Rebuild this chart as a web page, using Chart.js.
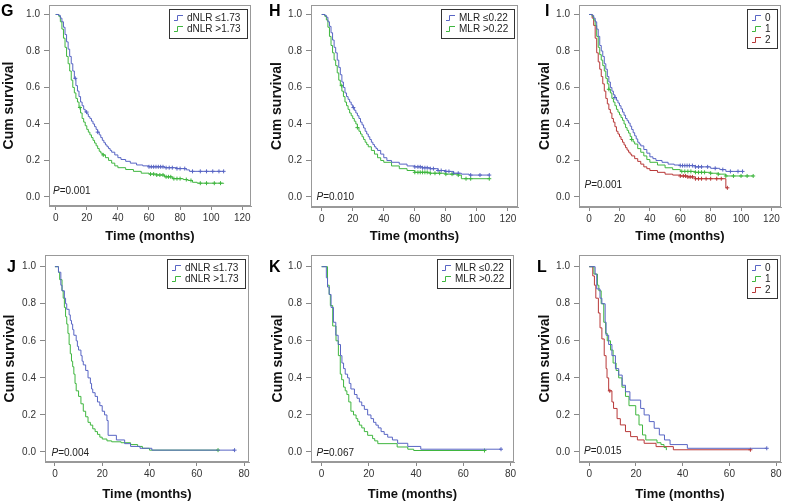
<!DOCTYPE html>
<html>
<head>
<meta charset="utf-8">
<script src="https://cdn.jsdelivr.net/npm/chart.js@4.4.1/dist/chart.umd.min.js"></script>
<style>
  body { margin: 0; background: #fff; }
  #wrap { position: relative; width: 786px; height: 501px; overflow: hidden; }
  canvas { position: absolute; }
</style>
</head>
<body>
<div id="wrap">
  <canvas id="cG" width="262" height="250" style="left:0;top:0"></canvas>
  <canvas id="cH" width="262" height="250" style="left:262px;top:0"></canvas>
  <canvas id="cI" width="262" height="250" style="left:524px;top:0"></canvas>
  <canvas id="cJ" width="262" height="251" style="left:0;top:250px"></canvas>
  <canvas id="cK" width="262" height="251" style="left:262px;top:250px"></canvas>
  <canvas id="cL" width="262" height="251" style="left:524px;top:250px"></canvas>
</div>
<script>
// tick labels
const xTicksTop = [0, 20, 40, 60, 80, 100, 120];
const xTicksBottom = [0, 20, 40, 60, 80];
const yTicks = [0, 0.2, 0.4, 0.6, 0.8, 1.0];

// group labels
const dnlrLabels = ["dNLR \u22641.73", "dNLR >1.73"];
const mlrLabels = ["MLR \u22640.22", "MLR >0.22"];
const scoreLabels = ["0", "1", "2"];

// survival curves: [month, cumulative survival]
const G_low = [[0,1],[2,0.995],[3,0.98],[4,0.96],[5,0.93],[6,0.89],[7,0.85],[8,0.81],[9,0.77],[10,0.73],[11,0.69],[12,0.65],[13,0.61],[14,0.58],[15,0.55],[16,0.52],[17,0.5],[18,0.48],[19,0.465],[20,0.455],[21,0.44],[22,0.43],[23,0.415],[24,0.4],[25,0.385],[26,0.37],[27,0.355],[28,0.34],[29,0.325],[30,0.31],[31,0.297],[32,0.285],[33,0.275],[34,0.265],[35,0.255],[36,0.245],[38,0.23],[40,0.215],[42,0.205],[45,0.195],[48,0.185],[52,0.175],[56,0.17],[60,0.165],[70,0.16],[78,0.155],[84,0.148],[86,0.14],[108,0.14]];
const G_high = [[0,1],[2,0.99],[3,0.96],[4,0.92],[5,0.87],[6,0.82],[7,0.77],[8,0.73],[9,0.69],[10,0.64],[11,0.6],[12,0.57],[13,0.54],[14,0.52],[15,0.49],[16,0.46],[17,0.43],[18,0.41],[19,0.39],[20,0.37],[21,0.355],[22,0.34],[23,0.325],[24,0.31],[25,0.295],[26,0.28],[27,0.265],[28,0.25],[29,0.24],[30,0.23],[32,0.215],[34,0.2],[36,0.185],[38,0.17],[40,0.16],[45,0.15],[50,0.14],[55,0.13],[60,0.125],[65,0.12],[70,0.11],[75,0.1],[82,0.095],[85,0.09],[88,0.08],[91,0.075],[108,0.072]];
const H_low = [[0,1],[2,0.995],[3,0.985],[4,0.96],[5,0.935],[6,0.9],[7,0.86],[8,0.82],[9,0.79],[10,0.75],[11,0.71],[12,0.67],[13,0.63],[14,0.6],[15,0.57],[16,0.55],[17,0.535],[18,0.52],[19,0.505],[20,0.49],[21,0.475],[22,0.46],[23,0.445],[24,0.43],[25,0.41],[26,0.395],[27,0.378],[28,0.36],[29,0.345],[30,0.33],[31,0.315],[32,0.3],[33,0.287],[34,0.275],[35,0.265],[36,0.255],[38,0.235],[40,0.215],[42,0.2],[45,0.19],[50,0.18],[55,0.17],[60,0.165],[65,0.16],[70,0.155],[75,0.145],[80,0.14],[85,0.13],[90,0.125],[95,0.12],[108,0.12]];
const H_high = [[0,1],[2,0.99],[3,0.97],[4,0.93],[5,0.88],[6,0.83],[7,0.79],[8,0.75],[9,0.72],[10,0.68],[11,0.64],[12,0.61],[13,0.58],[14,0.55],[15,0.52],[16,0.5],[17,0.48],[18,0.46],[19,0.445],[20,0.43],[21,0.415],[22,0.4],[23,0.38],[24,0.36],[25,0.345],[26,0.33],[27,0.315],[28,0.3],[29,0.287],[30,0.275],[32,0.255],[34,0.235],[36,0.215],[38,0.2],[40,0.19],[45,0.17],[50,0.155],[55,0.145],[60,0.135],[70,0.13],[80,0.125],[88,0.12],[90,0.1],[108,0.1]];
const I_0 = [[0,1],[2,0.995],[3,0.98],[4,0.96],[5,0.92],[6,0.88],[7,0.83],[8,0.8],[9,0.77],[10,0.73],[11,0.7],[12,0.66],[13,0.63],[14,0.6],[15,0.58],[16,0.56],[17,0.545],[18,0.53],[19,0.515],[20,0.5],[21,0.483],[22,0.465],[23,0.448],[24,0.43],[25,0.418],[26,0.405],[27,0.388],[28,0.37],[29,0.352],[30,0.335],[31,0.318],[32,0.3],[33,0.29],[34,0.28],[36,0.26],[38,0.24],[40,0.22],[42,0.21],[44,0.2],[48,0.19],[52,0.18],[56,0.175],[60,0.172],[70,0.165],[80,0.157],[86,0.15],[90,0.14],[101,0.14]];
const I_1 = [[0,1],[2,0.99],[3,0.97],[4,0.94],[5,0.88],[6,0.82],[7,0.78],[8,0.75],[9,0.72],[10,0.69],[11,0.65],[12,0.62],[13,0.59],[14,0.57],[15,0.54],[16,0.52],[17,0.5],[18,0.48],[19,0.465],[20,0.45],[21,0.435],[22,0.42],[23,0.4],[24,0.38],[25,0.365],[26,0.35],[27,0.332],[28,0.315],[29,0.302],[30,0.29],[32,0.265],[34,0.245],[36,0.225],[38,0.205],[40,0.19],[45,0.175],[50,0.16],[55,0.15],[60,0.14],[70,0.135],[80,0.13],[85,0.125],[90,0.115],[108,0.115]];
const I_2 = [[0,1],[2,0.98],[3,0.94],[4,0.87],[5,0.79],[6,0.74],[7,0.7],[8,0.66],[9,0.62],[10,0.58],[11,0.54],[12,0.51],[13,0.48],[14,0.46],[15,0.43],[16,0.41],[17,0.385],[18,0.36],[19,0.345],[20,0.33],[21,0.315],[22,0.3],[23,0.285],[24,0.27],[25,0.257],[26,0.245],[27,0.235],[28,0.225],[30,0.21],[32,0.195],[34,0.18],[36,0.165],[38,0.155],[40,0.145],[45,0.135],[50,0.125],[55,0.12],[60,0.115],[65,0.11],[70,0.1],[90,0.05],[91,0.05]];
const J_low = [[0,1],[1.5,0.97],[2.5,0.9],[3,0.87],[4,0.83],[4.5,0.8],[5,0.77],[6,0.74],[6.5,0.71],[7,0.69],[7.5,0.66],[8,0.63],[9,0.6],[9.5,0.57],[10,0.55],[11,0.52],[11.5,0.49],[12,0.47],[13,0.44],[14,0.4],[15,0.37],[15.5,0.34],[16,0.32],[17,0.3],[18,0.27],[19,0.25],[20,0.22],[21,0.2],[22,0.17],[22.5,0.09],[26,0.065],[29.5,0.045],[32,0.03],[36,0.02],[41,0.01],[76,0.01]];
const J_high = [[0,1],[1.5,0.97],[2,0.93],[3,0.87],[3.5,0.83],[4,0.78],[4.5,0.73],[5,0.69],[5.5,0.64],[6,0.58],[6.5,0.53],[7,0.49],[7.5,0.46],[8,0.42],[8.5,0.37],[9,0.33],[10,0.3],[11,0.26],[12,0.22],[13,0.19],[14,0.16],[15,0.145],[16,0.125],[17,0.11],[18,0.095],[19,0.08],[20,0.07],[22,0.06],[24,0.055],[28,0.05],[32,0.04],[35,0.03],[37,0.02],[40,0.01],[69,0.01]];
const K_low = [[0,1],[2,0.94],[2.5,0.89],[3.2,0.85],[4,0.78],[5,0.7],[6,0.63],[7,0.58],[8,0.52],[8.6,0.48],[9.3,0.45],[10,0.42],[11,0.4],[11.7,0.37],[12.4,0.34],[13.9,0.31],[15,0.29],[16,0.27],[17,0.25],[18.1,0.23],[19.5,0.2],[20.9,0.18],[22,0.16],[23,0.145],[24,0.13],[25.2,0.11],[26.5,0.095],[28,0.08],[30,0.065],[32.2,0.047],[36.5,0.03],[42,0.015],[76,0.015]];
const K_high = [[0,1],[2.5,0.9],[3.2,0.85],[3.7,0.79],[4.7,0.68],[6.1,0.6],[7.1,0.52],[7.9,0.42],[8.5,0.39],[9.3,0.35],[10,0.33],[10.7,0.31],[11.5,0.27],[12.4,0.22],[13.5,0.2],[14.6,0.18],[15.3,0.165],[16,0.145],[17,0.13],[18.1,0.11],[19.5,0.09],[21.6,0.072],[22.5,0.06],[23.8,0.045],[32,0.027],[36.5,0.015],[39,0.008],[69,0.008]];
const L_0 = [[0,1],[2.5,0.96],[3.2,0.88],[4.6,0.83],[5.4,0.8],[6.8,0.7],[7.2,0.63],[8.3,0.58],[9.7,0.52],[11.2,0.45],[12.6,0.415],[14.1,0.36],[15.5,0.325],[17.4,0.28],[22,0.235],[23.5,0.2],[25.7,0.164],[27.8,0.128],[30,0.092],[32.2,0.065],[34.6,0.04],[42,0.02],[76,0.02]];
const L_1 = [[0,1],[2,0.96],[3.5,0.9],[4.1,0.87],[5.1,0.8],[6.2,0.7],[7,0.64],[7.7,0.6],[9.1,0.55],[10.2,0.48],[11.5,0.44],[12.6,0.4],[14,0.35],[15.5,0.3],[17,0.25],[19.9,0.2],[21.3,0.146],[22.8,0.092],[24.2,0.065],[29,0.05],[30.7,0.04],[32,0.025],[33,0.01]];
const L_2 = [[0,1],[1.5,0.95],[2.2,0.9],[2.8,0.83],[3.9,0.75],[4.6,0.67],[5.4,0.61],[6.4,0.52],[7.2,0.45],[7.6,0.4],[8.3,0.33],[9.7,0.27],[10.4,0.235],[11.9,0.18],[13.3,0.146],[15.5,0.11],[17.7,0.083],[20.6,0.065],[23.5,0.047],[28.6,0.029],[36,0.012],[69,0.012]];

// censored observation times (months)
const G_lowCens = [12.6, 19.9, 27, 60, 61.5, 63, 64.5, 66, 67.5, 69, 71, 73, 75, 78, 80, 83, 88, 93, 97, 101, 105, 108];
const G_highCens = [15.6, 30.6, 61, 63, 65, 67, 69, 71, 72.5, 74, 76, 78, 80, 84, 87, 93, 97, 102, 106];
const H_lowCens = [20.4, 60, 62, 63.5, 65, 66.5, 68, 70, 72, 75, 77, 80, 82, 85, 88, 96, 102, 108];
const H_highCens = [12.9, 23, 60, 62, 63.5, 65, 66.5, 68, 70, 73, 76, 80, 84, 88, 93, 96, 108];
const I_0Cens = [17, 60, 61.5, 63, 64.5, 66, 68, 70, 72, 74, 78, 83, 88, 93, 98, 101];
const I_1Cens = [13, 28, 61, 63, 65, 67, 70, 72, 74, 76, 80, 85, 90, 95, 100, 104, 108];
const I_2Cens = [60, 62, 63.5, 65, 66.5, 68, 70, 72, 74, 77, 80, 84, 87, 91];
const J_lowCens = [76];
const J_highCens = [69];
const K_lowCens = [76];
const K_highCens = [69];
const L_0Cens = [76];
const L_1Cens = [];
const L_2Cens = [8.8, 69];

const pValues = { G: "0.001", H: "0.010", I: "0.001", J: "0.004", K: "0.067", L: "0.015" };

const BLUE = "#5865c4", GREEN = "#3fb63f", RED = "#b83838";
Chart.defaults.font.family = '"Liberation Sans", Arial, sans-serif';

// value of a step curve at time t
function survAt(curve, t) {
    let v = curve[0][1];
    for (const [x, y] of curve) { if (x <= t) v = y; }
    return v;
}

const kmDecor = {
    id: "kmDecor",
    afterDatasetsDraw(chart, args, o) {
        const { ctx, chartArea: a } = chart;
        ctx.save();
        // frame
        ctx.strokeStyle = "#999";
        ctx.lineWidth = 1;
        ctx.strokeRect(Math.round(a.left) + 0.5, Math.round(a.top) + 0.5,
            Math.round(a.right - a.left) - 1, Math.round(a.bottom - a.top) - 1);
        // p value
        ctx.fillStyle = "#222";
        ctx.textBaseline = "alphabetic";
        ctx.font = 'italic 10px "Liberation Sans"';
        ctx.fillText("P", a.left + o.px, a.bottom - o.py);
        const pw = ctx.measureText("P").width;
        ctx.font = '10px "Liberation Sans"';
        ctx.fillText("=" + o.p, a.left + o.px + pw, a.bottom - o.py);
        // panel letter
        ctx.fillStyle = "#000";
        ctx.font = 'bold 16px "Liberation Sans"';
        ctx.fillText(o.letter, o.lx, o.ly);
        // legend
        const items = chart.data.datasets.filter(d => !d.censor);
        ctx.font = '10px "Liberation Sans"';
        const tw = Math.max(...items.map(d => ctx.measureText(d.label).width));
        const rowH = 10.8;
        const bw = Math.round(18 + tw + 6), bh = Math.round(items.length * rowH + 7);
        const bx = Math.round(a.right - 4 - bw), by = Math.round(a.top + 4);
        ctx.fillStyle = "#fff";
        ctx.fillRect(bx, by, bw, bh);
        ctx.strokeStyle = "#333";
        ctx.strokeRect(bx + 0.5, by + 0.5, bw, bh);
        items.forEach((d, i) => {
            const cy = Math.round(by + 3.5 + rowH * (i + 0.5));
            ctx.strokeStyle = d.borderColor;
            ctx.beginPath();
            ctx.moveTo(bx + 5, cy + 2.5);
            ctx.lineTo(bx + 8.5, cy + 2.5);
            ctx.lineTo(bx + 8.5, cy - 2.5);
            ctx.lineTo(bx + 14, cy - 2.5);
            ctx.stroke();
            ctx.fillStyle = "#222";
            ctx.textBaseline = "middle";
            ctx.fillText(d.label, bx + 18, cy + 0.5);
        });
        ctx.restore();
    }
};

function makePanel(cfg) {
    const el = document.getElementById(cfg.id);
    const W = el.width, H = el.height, area = cfg.area;
    const datasets = [];
    cfg.series.forEach(s => {
        datasets.push({
            label: s.label,
            data: s.curve.map(([x, y]) => ({ x, y })),
            stepped: "before",
            borderColor: s.color,
            borderWidth: 1,
            pointRadius: 0,
            fill: false
        });
    });
    cfg.series.forEach(s => {
        datasets.push({
            label: s.label + " censored",
            censor: true,
            data: s.cens.map(t => ({ x: t, y: survAt(s.curve, t) })),
            showLine: false,
            borderColor: s.color,
            borderWidth: 1,
            pointStyle: "cross",
            pointRadius: 2
        });
    });
    new Chart(el, {
        type: "line",
        data: { datasets },
        plugins: [kmDecor],
        options: {
            responsive: false,
            animation: false,
            events: [],
            layout: { padding: { top: area.t, right: W - area.r, left: 0, bottom: 0 } },
            plugins: {
                legend: { display: false },
                tooltip: { enabled: false },
                kmDecor: { letter: cfg.letter, lx: cfg.lx, ly: cfg.ly, p: cfg.p, px: cfg.px, py: cfg.py }
            },
            scales: {
                x: {
                    type: "linear",
                    min: cfg.xMin,
                    max: cfg.xMax,
                    afterBuildTicks: s => { s.ticks = cfg.xTicks.map(v => ({ value: v })); },
                    afterFit: s => { s.height = H - area.b; s.paddingLeft = 0; s.paddingRight = 0; },
                    ticks: { font: { size: 10 }, color: "#333", padding: 2, maxRotation: 0, callback: v => v },
                    grid: { drawOnChartArea: false, tickLength: 4, tickColor: "#888" },
                    border: { color: "#999" },
                    title: {
                        display: true, text: "Time (months)", color: "#111",
                        font: { size: 13, weight: "bold", lineHeight: 1 },
                        padding: { top: 0, bottom: cfg.xtPad }
                    }
                },
                y: {
                    min: cfg.yMin,
                    max: cfg.yMax,
                    afterBuildTicks: s => { s.ticks = yTicks.map(v => ({ value: v })); },
                    afterFit: s => { s.width = area.l; s.paddingTop = 0; s.paddingBottom = 0; },
                    ticks: { font: { size: 10 }, color: "#333", padding: 4, callback: v => v.toFixed(1) },
                    grid: { drawOnChartArea: false, tickLength: 5, tickColor: "#888" },
                    border: { color: "#999" },
                    title: {
                        display: true, text: "Cum survival", color: "#111",
                        font: { size: 14, weight: "bold", lineHeight: 1 },
                        padding: { top: cfg.ytPad, bottom: 0 }
                    }
                }
            }
        }
    });
}

makePanel({
    id: "cG", letter: "G", lx: 1, ly: 16, p: pValues.G, px: 4, py: 12,
    area: { l: 49, t: 2, r: 251, b: 206 }, xMin: -4.3, xMax: 125.6, yMin: -0.05, yMax: 1.052,
    xTicks: xTicksTop, xtPad: 7, ytPad: 2.5,
    series: [
        { label: dnlrLabels[0], curve: G_low, cens: G_lowCens, color: BLUE },
        { label: dnlrLabels[1], curve: G_high, cens: G_highCens, color: GREEN }
    ]
});
makePanel({
    id: "cH", letter: "H", lx: 7, ly: 16, p: pValues.H, px: 5.5, py: 7.5,
    area: { l: 49, t: 2, r: 256, b: 207 }, xMin: -6.9, xMax: 126.5, yMin: -0.055, yMax: 1.052,
    xTicks: xTicksTop, xtPad: 7, ytPad: 8,
    series: [
        { label: mlrLabels[0], curve: H_low, cens: H_lowCens, color: BLUE },
        { label: mlrLabels[1], curve: H_high, cens: H_highCens, color: GREEN }
    ]
});
makePanel({
    id: "cI", letter: "I", lx: 21, ly: 16, p: pValues.I, px: 5.5, py: 19,
    area: { l: 55, t: 2, r: 261, b: 207 }, xMin: -6.65, xMax: 126.3, yMin: -0.055, yMax: 1.052,
    xTicks: xTicksTop, xtPad: 7, ytPad: 14,
    series: [
        { label: scoreLabels[0], curve: I_0, cens: I_0Cens, color: BLUE },
        { label: scoreLabels[1], curve: I_1, cens: I_1Cens, color: GREEN },
        { label: scoreLabels[2], curve: I_2, cens: I_2Cens, color: RED }
    ]
});
makePanel({
    id: "cJ", letter: "J", lx: 7, ly: 21.5, p: pValues.J, px: 6.5, py: 6,
    area: { l: 45, t: 5, r: 249, b: 212 }, xMin: -4.2, xMax: 82.1, yMin: -0.054, yMax: 1.063,
    xTicks: xTicksBottom, xtPad: 0.5, ytPad: 3,
    series: [
        { label: dnlrLabels[0], curve: J_low, cens: J_lowCens, color: BLUE },
        { label: dnlrLabels[1], curve: J_high, cens: J_highCens, color: GREEN }
    ]
});
makePanel({
    id: "cK", letter: "K", lx: 7, ly: 21.5, p: pValues.K, px: 5.5, py: 6,
    area: { l: 49, t: 5, r: 252, b: 212 }, xMin: -4.5, xMax: 81.5, yMin: -0.054, yMax: 1.063,
    xTicks: xTicksBottom, xtPad: 0.5, ytPad: 9,
    series: [
        { label: mlrLabels[0], curve: K_low, cens: K_lowCens, color: BLUE },
        { label: mlrLabels[1], curve: K_high, cens: K_highCens, color: GREEN }
    ]
});
makePanel({
    id: "cL", letter: "L", lx: 13, ly: 21.5, p: pValues.L, px: 5, py: 8,
    area: { l: 55, t: 5, r: 258, b: 212 }, xMin: -4.4, xMax: 82.1, yMin: -0.054, yMax: 1.063,
    xTicks: xTicksBottom, xtPad: 0.5, ytPad: 14,
    series: [
        { label: scoreLabels[0], curve: L_0, cens: L_0Cens, color: BLUE },
        { label: scoreLabels[1], curve: L_1, cens: L_1Cens, color: GREEN },
        { label: scoreLabels[2], curve: L_2, cens: L_2Cens, color: RED }
    ]
});
</script>
</body>
</html>
